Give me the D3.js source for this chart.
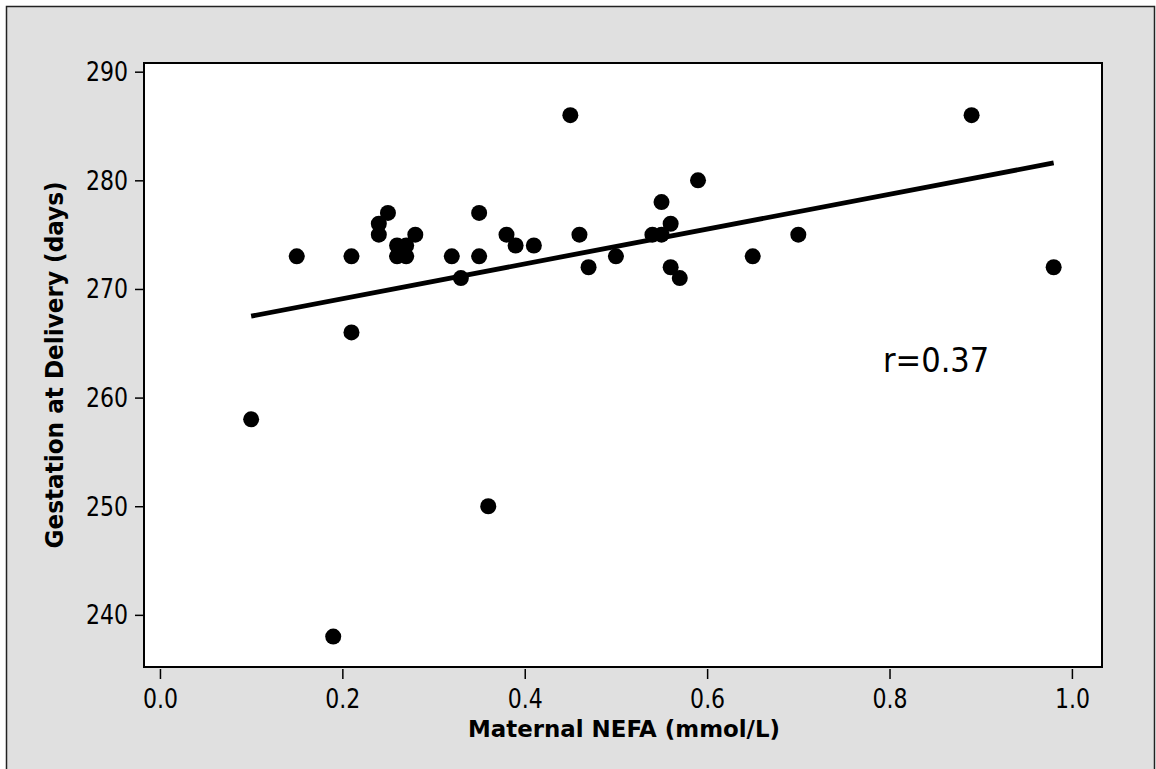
<!DOCTYPE html>
<html lang="en">
<head>
    <meta charset="UTF-8">
    <title>Maternal NEFA vs Gestation</title>
    <style>
        body { margin: 0; background: #fff; }
        svg { display: block; }
    </style>
</head>
<body>
    <svg id="chart"></svg>

    <script src="https://d3js.org/d3.v7.min.js"></script>
    <script>
// data
const nefa = [0.10, 0.15, 0.19, 0.21, 0.21, 0.24, 0.24, 0.25, 0.26, 0.26, 0.27, 0.27,
              0.28, 0.32, 0.33, 0.35, 0.35, 0.36, 0.38, 0.39, 0.41, 0.45, 0.46, 0.47,
              0.50, 0.54, 0.55, 0.55, 0.56, 0.56, 0.57, 0.59, 0.65, 0.70, 0.89, 0.98];
const gestation = [258, 273, 238, 273, 266, 276, 275, 277, 274, 273, 274, 273,
                   275, 273, 271, 277, 273, 250, 275, 274, 274, 286, 275, 272,
                   273, 275, 278, 275, 276, 272, 271, 280, 273, 275, 286, 272];
const xTicks = [0.0, 0.2, 0.4, 0.6, 0.8, 1.0];
const yTicks = [240, 250, 260, 270, 280, 290];
// fitted line ends
const fitX = [0.10, 0.98];
const fitY = [267.5, 281.6];
const rLabel = "r=0.37";

const width = 1156, height = 769;
const plot = { left: 144, right: 1102, top: 63, bottom: 667 };

const svg = d3.select("#chart")
    .attr("width", width)
    .attr("height", height);

// grey panel with its thin border
svg.append("rect")
    .attr("x", 6.5).attr("y", 6.5)
    .attr("width", 1148).attr("height", 780)
    .attr("fill", "#e0e0e0")
    .attr("stroke", "#222")
    .attr("stroke-width", 1.5);

svg.append("rect")
    .attr("x", plot.left).attr("y", plot.top)
    .attr("width", plot.right - plot.left).attr("height", plot.bottom - plot.top)
    .attr("fill", "#fff");

const x = d3.scaleLinear().domain([-0.0175, 1.033]).range([plot.left, plot.right]);
const y = d3.scaleLinear().domain([235.2, 290.8]).range([plot.bottom, plot.top]);

const tickFont = "'DejaVu Sans Condensed', 'DejaVu Sans', sans-serif";

// x axis
const xAxis = svg.append("g")
    .attr("transform", `translate(0, ${plot.bottom + 2})`)
    .call(d3.axisBottom(x).tickValues(xTicks).tickFormat(d3.format(".1f")).tickSize(10).tickPadding(7.5));
xAxis.select(".domain").remove();
xAxis.selectAll("line").attr("stroke", "#000").attr("stroke-width", 1.5);
xAxis.selectAll("text")
    .attr("fill", "#000")
    .attr("transform", "scale(1,1.12)")
    .style("font-family", tickFont)
    .style("font-size", "24.5px");

// y axis
const yAxis = svg.append("g")
    .attr("transform", `translate(${plot.left - 1}, 0)`)
    .call(d3.axisLeft(y).tickValues(yTicks).tickSize(8).tickPadding(7));
yAxis.select(".domain").remove();
yAxis.selectAll("line").attr("stroke", "#000").attr("stroke-width", 1.5);
yAxis.selectAll("text")
    .attr("fill", "#000")
    .attr("transform", "scale(1,1.12)")
    .style("font-family", tickFont)
    .style("font-size", "24.5px");

// plot frame
svg.append("rect")
    .attr("x", plot.left).attr("y", plot.top)
    .attr("width", plot.right - plot.left).attr("height", plot.bottom - plot.top)
    .attr("fill", "none")
    .attr("stroke", "#000")
    .attr("stroke-width", 2);

// regression line
svg.append("line")
    .attr("x1", x(fitX[0])).attr("y1", y(fitY[0]))
    .attr("x2", x(fitX[1])).attr("y2", y(fitY[1]))
    .attr("stroke", "#000")
    .attr("stroke-width", 4.8);

// points
svg.append("g")
    .selectAll("circle")
    .data(nefa.map((v, i) => [v, gestation[i]]))
    .enter()
    .append("circle")
    .attr("cx", d => x(d[0]))
    .attr("cy", d => y(d[1]))
    .attr("r", 8)
    .attr("fill", "#000");

// r label
svg.append("text")
    .attr("x", 883).attr("y", 372)
    .text(rLabel)
    .style("font-family", tickFont)
    .style("font-size", "34px")
    .attr("fill", "#000");

// axis titles
svg.append("text")
    .attr("x", 624).attr("y", 737)
    .attr("text-anchor", "middle")
    .attr("textLength", 312)
    .attr("lengthAdjust", "spacingAndGlyphs")
    .text("Maternal NEFA (mmol/L)")
    .style("font-family", tickFont)
    .style("font-weight", "bold")
    .style("font-size", "23px");

svg.append("text")
    .attr("transform", `translate(63, ${(plot.top + plot.bottom) / 2}) rotate(-90)`)
    .attr("text-anchor", "middle")
    .attr("textLength", 367)
    .attr("lengthAdjust", "spacingAndGlyphs")
    .text("Gestation at Delivery (days)")
    .style("font-family", tickFont)
    .style("font-weight", "bold")
    .style("font-size", "25px");
    </script>
</body>
</html>
